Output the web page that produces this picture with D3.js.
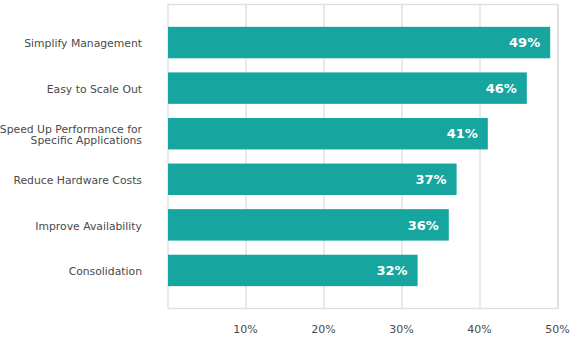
<!DOCTYPE html>
<html>
<head>
<meta charset="utf-8">
<script src="https://cdn.jsdelivr.net/npm/d3@7"></script>
<style>
  body { margin: 0; background: #fff; }
  svg { display: block; }
  text { font-family: "DejaVu Sans", sans-serif; }
</style>
</head>
<body>
<script>
var categories = [
  ["Simplify Management"],
  ["Easy to Scale Out"],
  ["Speed Up Performance for", "Specific Applications"],
  ["Reduce Hardware Costs"],
  ["Improve Availability"],
  ["Consolidation"]
];
var values = [49, 46, 41, 37, 36, 32];
var tickValues = [10, 20, 30, 40, 50];

var width = 581;
var height = 341;
var plotLeft = 168, plotRight = 558, plotTop = 4.5, plotBottom = 308.5;

var svg = d3.select('body').append('svg')
    .attr('width', width)
    .attr('height', height);

var x = d3.scaleLinear()
    .domain([0, 50])
    .range([plotLeft, plotRight]);

var y = d3.scaleBand()
    .domain(d3.range(categories.length))
    .range([plotTop, plotBottom])
    .paddingInner(0.31)
    .paddingOuter(0.49);

// frame + grid
svg.append('g').selectAll('line')
    .data(tickValues)
    .enter().append('line')
    .attr('x1', function(d) { return x(d); })
    .attr('x2', function(d) { return x(d); })
    .attr('y1', plotTop)
    .attr('y2', plotBottom)
    .attr('stroke', '#dedede')
    .attr('stroke-width', 1.3);

svg.append('rect')
    .attr('x', plotLeft)
    .attr('y', plotTop)
    .attr('width', plotRight - plotLeft)
    .attr('height', plotBottom - plotTop)
    .attr('fill', 'none')
    .attr('stroke', '#dedede')
    .attr('stroke-width', 1.3);

// bars
svg.append('g').selectAll('rect')
    .data(values)
    .enter().append('rect')
    .attr('x', x(0))
    .attr('y', function(d, i) { return y(i); })
    .attr('width', function(d) { return x(d) - x(0); })
    .attr('height', y.bandwidth())
    .attr('fill', '#17a59f');

// value labels
svg.append('g').selectAll('text')
    .data(values)
    .enter().append('text')
    .attr('x', function(d) { return x(d) - 10; })
    .attr('y', function(d, i) { return y(i) + y.bandwidth() / 2; })
    .attr('dy', '0.36em')
    .attr('text-anchor', 'end')
    .attr('fill', '#fff')
    .attr('font-weight', 'bold')
    .attr('font-size', '13px')
    .text(function(d) { return d + '%'; });

// category labels
var labels = svg.append('g').selectAll('text')
    .data(categories)
    .enter().append('text')
    .attr('text-anchor', 'end')
    .attr('fill', '#4a4a4a')
    .attr('font-size', '10.8px')
    .attr('transform', function(d, i) {
        return 'translate(142,' + (y(i) + y.bandwidth() / 2 + 1) + ')';
    });

labels.selectAll('tspan')
    .data(function(d) { return d; })
    .enter().append('tspan')
    .attr('x', 0)
    .attr('y', function(d, j, nodes) { return (j - (nodes.length - 1) / 2) * 11.5; })
    .attr('dy', '0.35em')
    .text(function(d) { return d; });

// x axis tick labels
var xAxis = d3.axisBottom(x)
    .tickValues(tickValues)
    .tickSize(0)
    .tickPadding(17)
    .tickFormat(function(d) { return d + '%'; });

var axisG = svg.append('g')
    .attr('transform', 'translate(0,' + plotBottom + ')')
    .call(xAxis);
axisG.select('.domain').remove();
axisG.selectAll('text')
    .attr('font-family', '"DejaVu Sans", sans-serif')
    .attr('font-size', '11px')
    .attr('fill', '#4a4a4a')
    .attr('dx', '-1');
</script>
</body>
</html>
